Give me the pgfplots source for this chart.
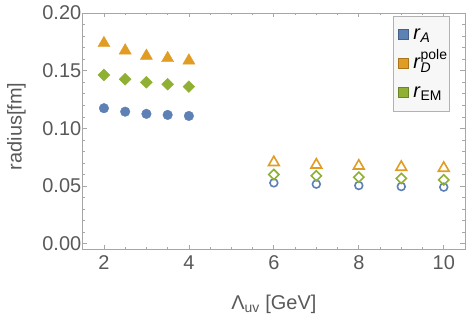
\documentclass[border=0pt]{standalone}
\usepackage{fontspec}
\setmainfont{Liberation Sans}
\usepackage{pgfplots}
\pgfplotsset{compat=1.18}
\definecolor{cA}{HTML}{5E81B5}
\definecolor{cD}{HTML}{E19C24}
\definecolor{cE}{HTML}{8FB032}
\definecolor{tickc}{HTML}{595959}
\definecolor{framec}{HTML}{A6A6A6}
\newcommand{\bigf}{\fontsize{20}{24}\selectfont}
\begin{document}
\begin{tikzpicture}
\begin{axis}[
  at={(0,0)}, anchor=south west,
  scale only axis, width=382.3bp, height=236bp,
  xmin=1.5, xmax=10.5, ymin=-0.0045, ymax=0.2,
  xtick={2,4,6,8,10},
  minor xtick={2.5,3,3.5,4.5,5,5.5,6.5,7,7.5,8.5,9,9.5},
  ytick={0,0.05,0.1,0.15,0.2},
  minor y tick num=4,
  tick align=inside, major tick length=4.5bp, minor tick length=2.5bp,
  axis line style={framec, line width=0.8bp},
  every tick/.style={framec, line width=0.7bp},
  /pgf/number format/assume math mode=true,
  ticklabel style={font=\bigf, text=tickc},
  xticklabel style={yshift=-3bp},
  yticklabel style={xshift=2bp, /pgf/number format/fixed, /pgf/number format/fixed zerofill, /pgf/number format/precision=2},
  xlabel={\bigf Λ\textsubscript{uv} [GeV]},
  xlabel style={at={(rel axis cs:0.5,0)}, anchor=base, yshift=-60bp, text=tickc},
  ylabel={\bigf radius[fm]},
  ylabel style={at={(axis description cs:-0.173,0.52)}, anchor=center, text=tickc},
  legend style={at={(rel axis cs:0.811,0.987)}, anchor=north west, fill=black!3, draw=black!30, line width=0.6bp, font=\bigf, inner xsep=5bp, inner ysep=4bp,
    nodes={text height=17bp, text depth=8bp}},
  legend cell align=left,
]
\addlegendimage{only marks, mark=square*, mark size=5bp, mark options={fill=cA, draw=cA!75!black, line width=0.8bp}}
\addlegendentry{\,\textit{r}\textsubscript{\textit{A}}}
\addlegendimage{only marks, mark=square*, mark size=5bp, mark options={fill=cD, draw=cD!75!black, line width=0.8bp}}
\addlegendentry{\,\textit{r}\rlap{\raisebox{1.5bp}{\textsuperscript{pole}}}\raisebox{-1.5bp}{\textsubscript{\textit{D}}}\hspace{2.2em}}
\addlegendimage{only marks, mark=square*, mark size=5bp, mark options={fill=cE, draw=cE!75!black, line width=0.8bp}}
\addlegendentry{\,\textit{r}\textsubscript{EM}}

% filled markers
\addplot[forget plot, only marks, mark=*, mark size=4.8bp, color=cA] coordinates {(2,0.1175)(2.5,0.1145)(3,0.1126)(3.5,0.1117)(4,0.1108)};
\addplot[forget plot, only marks, mark=triangle*, mark size=7bp, color=cD] coordinates {(2,0.1738)(2.5,0.1674)(3,0.1628)(3.5,0.1608)(4,0.1587)};
\addplot[forget plot, only marks, mark=square*, mark size=4.2bp, mark options={rotate=45}, color=cE] coordinates {(2,0.1463)(2.5,0.1426)(3,0.1400)(3.5,0.1383)(4,0.1362)};
% open markers
\addplot[forget plot, only marks, mark=o, mark size=3.9bp, mark options={line width=1.6bp}, color=cA] coordinates {(6,0.0528)(7,0.0517)(8,0.0505)(9,0.0496)(10,0.0491)};
\addplot[forget plot, only marks, mark=triangle, mark size=6.2bp, mark options={line width=1.6bp}, color=cD] coordinates {(6,0.0705)(7,0.0684)(8,0.0675)(9,0.0664)(10,0.0656)};
\addplot[forget plot, only marks, mark=square, mark size=3.6bp, mark options={rotate=45, line width=1.6bp}, color=cE] coordinates {(6,0.0600)(7,0.0589)(8,0.0577)(9,0.0566)(10,0.0554)};
\end{axis}
\pgfresetboundingbox
\path[use as bounding box] (-82.7bp,-65bp) rectangle (386.3bp,249bp);
\end{tikzpicture}
\end{document}
